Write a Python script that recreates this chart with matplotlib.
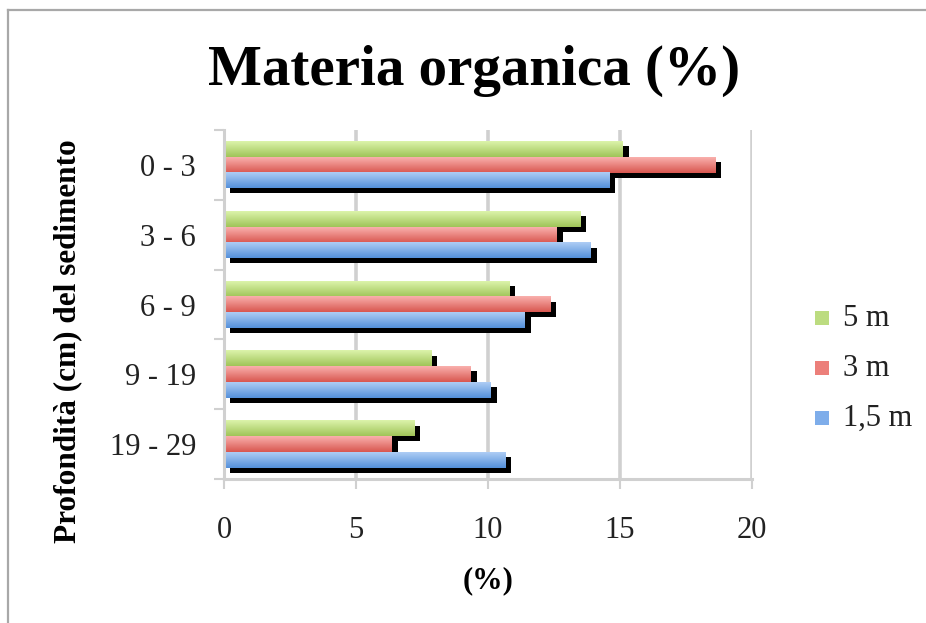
import numpy as np
import matplotlib
matplotlib.use("Agg")
import matplotlib.pyplot as plt
from matplotlib.colors import LinearSegmentedColormap
from matplotlib.transforms import ScaledTranslation
from matplotlib.lines import Line2D
from matplotlib.patches import Rectangle

# Depth classes (top to bottom) and organic matter per sampling depth
categories = ["0 - 3", "3 - 6", "6 - 9", "9 - 19", "19 - 29"]
series_names = ["5 m", "3 m", "1,5 m"]
vals_5m = [15.1, 13.5, 10.8, 7.85, 7.2]
vals_3m = [18.6, 12.6, 12.35, 9.35, 6.35]
vals_15m = [14.6, 13.9, 11.4, 10.1, 10.65]
x_ticks = [0, 5, 10, 15, 20]

series_vals = [vals_5m, vals_3m, vals_15m]
# (top colour, bottom colour) of the vertical gradient in each bar
grad_colors = [("#dcf4ab", "#a0c458"),
               ("#f9b0ad", "#d95750"),
               ("#aecdf5", "#5490da")]
legend_colors = ["#bcdc80", "#ec7f7a", "#7eadea"]

W, H, DPI = 926, 623, 100
fig = plt.figure(figsize=(W / DPI, H / DPI), dpi=DPI)
fig.patch.set_facecolor("white")

# chart frame (left and top edges)
fig.add_artist(Line2D([8 / W, 8 / W], [0, 1 - 10 / H], transform=fig.transFigure,
                      color="#a8a8a8", lw=1.6))
fig.add_artist(Line2D([8 / W, 1], [1 - 10 / H, 1 - 10 / H], transform=fig.transFigure,
                      color="#a8a8a8", lw=1.6))

left, right, top, bottom = 224, 752, 130, 479
ax = fig.add_axes([left / W, 1 - bottom / H, (right - left) / W, (bottom - top) / H])

serif = ["Liberation Serif", "DejaVu Serif"]
n_series = len(series_vals)
gap = 1.45
bar_h = 1.0 / (n_series + gap)
y_centers = np.arange(len(categories))

shadow_tr = ax.transData + ScaledTranslation(6 / DPI, -5 / DPI, fig.dpi_scale_trans)

grad = np.linspace(0, 1, 64).reshape(-1, 1)
for i, (vals, (c_top, c_bot)) in enumerate(zip(series_vals, grad_colors)):
    offs = (i - (n_series - 1) / 2) * bar_h
    ypos = y_centers + offs
    # drop shadow
    ax.barh(ypos, vals, height=bar_h, color="black", zorder=2, transform=shadow_tr)
    bars = ax.barh(ypos, vals, height=bar_h, color=c_top, zorder=3, linewidth=0)
    cmap = LinearSegmentedColormap.from_list(f"g{i}", [c_top, c_bot])
    for b in bars:
        x0, y0 = b.get_x(), b.get_y()
        x1, y1 = x0 + b.get_width(), y0 + b.get_height()
        # y axis is inverted: y0 is the visual top of the bar
        ax.imshow(grad, cmap=cmap, aspect="auto", extent=[x0, x1, y1, y0],
                  zorder=4, interpolation="bilinear")

ax.set_xlim(0, 20)
ax.set_ylim(len(categories) - 0.5, -0.5)

grid_c = "#d0d0d0"
for xv in x_ticks[1:]:
    ax.axvline(xv, color=grid_c, lw=2.6, zorder=1)

for s in ["top", "right"]:
    ax.spines[s].set_visible(False)
for s in ["left", "bottom"]:
    ax.spines[s].set_color(grid_c)
    ax.spines[s].set_linewidth(2.2)
    ax.spines[s].set_zorder(5)

ax.set_xticks(x_ticks)
ax.set_xticklabels([str(v) for v in x_ticks], fontfamily=serif, fontsize=22, color="#222222")
ax.tick_params(axis="x", length=7, width=1.5, color=grid_c, pad=20, direction="out")

ax.set_yticks(y_centers)
ax.set_yticklabels(categories, fontfamily=serif, fontsize=22, color="#222222")
ax.set_yticks(np.arange(len(categories) + 1) - 0.5, minor=True)
ax.tick_params(axis="y", which="major", length=0, pad=20)
ax.tick_params(axis="y", which="minor", length=7, width=1.5, color=grid_c, direction="out")

fig.text(0.5 * (207 + 741) / W, 1 - 71 / H, "Materia organica (%)",
         fontfamily=serif, fontweight="bold", fontsize=41, ha="center", va="center")
fig.text(488 / W, 1 - 581 / H, "(%)", fontfamily=serif, fontweight="bold",
         fontsize=22, ha="center", va="center")
fig.text(68 / W, 1 - 341 / H, "Profondità (cm) del sedimento", fontfamily=serif,
         fontweight="bold", fontsize=22.5, rotation=90, ha="center", va="center")

# legend
for k, (name, col) in enumerate(zip(series_names, legend_colors)):
    yc = 318 + 50 * k
    fig.add_artist(Rectangle((815 / W, 1 - (yc + 7) / H), 14 / W, 14 / H,
                             transform=fig.transFigure, facecolor=col, edgecolor="none"))
    fig.text(843 / W, 1 - yc / H, name, fontfamily=serif, fontsize=22,
             ha="left", va="center", color="#222222")

fig.savefig("out.png", dpi=DPI)
